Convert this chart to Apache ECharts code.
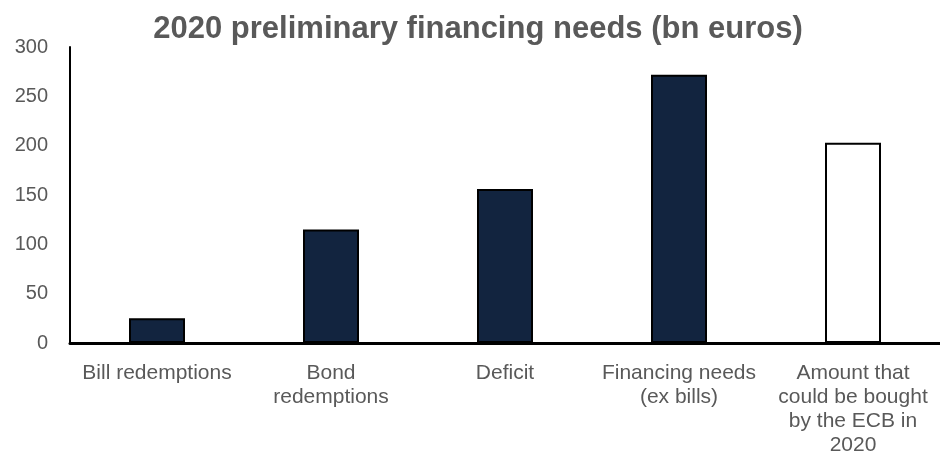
<!DOCTYPE html>
<html>
<head>
<meta charset="utf-8">
<script src="https://cdn.jsdelivr.net/npm/echarts@6/dist/echarts.min.js"></script>
<style>
  html, body { margin: 0; padding: 0; background: #ffffff; overflow: hidden; }
  #chart { width: 940px; height: 460px; }
</style>
</head>
<body>
<div id="chart"></div>
<script>
// 2020 preliminary financing needs, bn euros
const categories = [
  'Bill redemptions',
  'Bond\nredemptions',
  'Deficit',
  'Financing needs\n(ex bills)',
  'Amount that\ncould be bought\nby the ECB in\n2020'
];
const values = [25, 115, 156, 272, 203];
const yTicks = [0, 50, 100, 150, 200, 250, 300];

const darkFill = '#12243f';
const textGray = '#595959';
const fontFamily = 'Liberation Sans, Arial, sans-serif';

const chart = echarts.init(document.getElementById('chart'), null, { renderer: 'canvas' });

chart.setOption({
  animation: false,
  backgroundColor: '#ffffff',
  title: {
    text: '2020 preliminary financing needs (bn euros)',
    left: 473,
    textAlign: 'center',
    top: 9,
    textStyle: {
      fontFamily: fontFamily,
      fontSize: 31,
      fontWeight: 'bold',
      color: textGray
    }
  },
  grid: {
    left: 70,
    right: -5,
    top: 47,
    bottom: 117,
    containLabel: false
  },
  xAxis: {
    type: 'category',
    data: categories,
    axisLine: { show: true, lineStyle: { color: '#000000', width: 3 } },
    axisTick: { show: false },
    axisLabel: {
      interval: 0,
      margin: 18,
      color: textGray,
      fontFamily: fontFamily,
      fontSize: 21,
      lineHeight: 24,
      align: 'center'
    }
  },
  yAxis: {
    type: 'value',
    min: yTicks[0],
    max: yTicks[yTicks.length - 1],
    interval: yTicks[1] - yTicks[0],
    axisLine: { show: true, lineStyle: { color: '#000000', width: 2 } },
    axisTick: { show: false },
    splitLine: { show: false },
    axisLabel: {
      margin: 22,
      color: textGray,
      fontFamily: fontFamily,
      fontSize: 20
    }
  },
  series: [{
    type: 'bar',
    barWidth: 56,
    data: values.map((v, i) => ({
      value: v,
      itemStyle: {
        color: i === values.length - 1 ? '#ffffff' : darkFill,
        borderColor: '#000000',
        borderWidth: 2
      }
    }))
  }]
});
</script>
</body>
</html>
